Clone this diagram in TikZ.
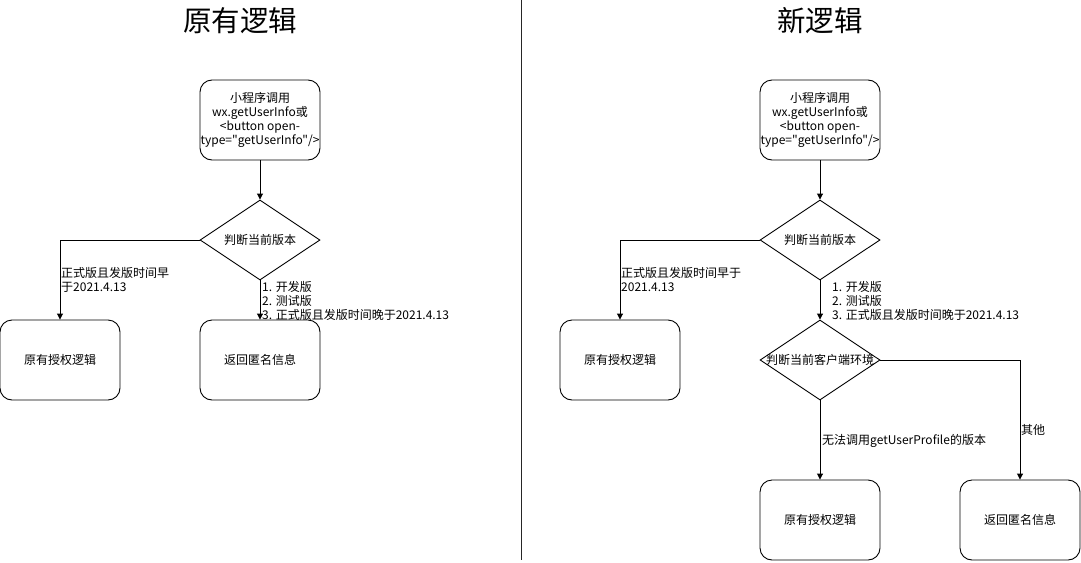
\documentclass[tikz,border=0pt]{standalone}
\usepackage{fontspec}
\newfontfamily\cjkfont{Noto Sans CJK SC}
\usetikzlibrary{shapes.geometric,arrows.meta}
\begin{document}
\begin{tikzpicture}[x=1pt,y=-1pt,
  every node/.style={font=\cjkfont\fontsize{12}{14}\selectfont, inner sep=0pt},
  procbox/.style={draw, rounded corners=12pt, minimum width=120pt, minimum height=80pt, align=center, line width=0.9pt},
  decision/.style={draw, diamond, aspect=1.5, minimum width=120pt, minimum height=80pt, align=center, line width=0.9pt},
  titletext/.style={font=\cjkfont\fontsize{28.5}{32}\selectfont},
  edgelabel/.style={align=left, anchor=north west},
  flow/.style={-{Triangle[length=6pt,width=6pt]}, line width=0.9pt}]
\useasboundingbox (0,0) rectangle (1081,562);
% titles and divider
\node[titletext] (t1) at (240,21) {原有逻辑};
\node[titletext] (t2) at (820,21) {新逻辑};
\coordinate (d1) at (521,0);
\coordinate (d2) at (521,560);
\draw[line width=0.8pt, black!85] (d1) -- (d2);
% left flow
\node[procbox] (a1) at (260,120) {小程序调用\\wx.getUserInfo或\\<button open-\\type="getUserInfo"/>};
\node[decision] (a2) at (260,240) {判断当前版本};
\node[procbox] (a3) at (60,360) {原有授权逻辑};
\node[procbox] (a4) at (260,360) {返回匿名信息};
\draw[flow] (a1) -- (a2);
\draw[flow] (a2.west) -| (a3.north);
\draw[flow] (a2.south) -- (a4.north);
\node[edgelabel] (la1) at (61,267) {正式版且发版时间早\\于2021.4.13};
\node[edgelabel] (la2) at (262,281) {1. 开发版\\2. 测试版\\3. 正式版且发版时间晚于2021.4.13};
% right flow
\node[procbox] (b1) at (820,120) {小程序调用\\wx.getUserInfo或\\<button open-\\type="getUserInfo"/>};
\node[decision] (b2) at (820,240) {判断当前版本};
\node[procbox] (b3) at (620,360) {原有授权逻辑};
\node[decision] (b4) at (820,360) {\makebox[0pt]{判断当前客户端环境}};
\node[procbox] (b5) at (820,520) {原有授权逻辑};
\node[procbox] (b6) at (1020,520) {返回匿名信息};
\draw[flow] (b1) -- (b2);
\draw[flow] (b2.west) -| (b3.north);
\draw[flow] (b2.south) -- (b4.north);
\draw[flow] (b4.south) -- (b5.north);
\draw[flow] (b4.east) -| (b6.north);
\node[edgelabel] (lb1) at (621,267) {正式版且发版时间早于\\2021.4.13};
\node[edgelabel] (lb2) at (832,281) {1. 开发版\\2. 测试版\\3. 正式版且发版时间晚于2021.4.13};
\node[edgelabel, anchor=west] (lb3) at (822,441) {无法调用getUserProfile的版本};
\node[edgelabel, anchor=west] (lb4) at (1021,430) {其他};
\end{tikzpicture}
\end{document}
